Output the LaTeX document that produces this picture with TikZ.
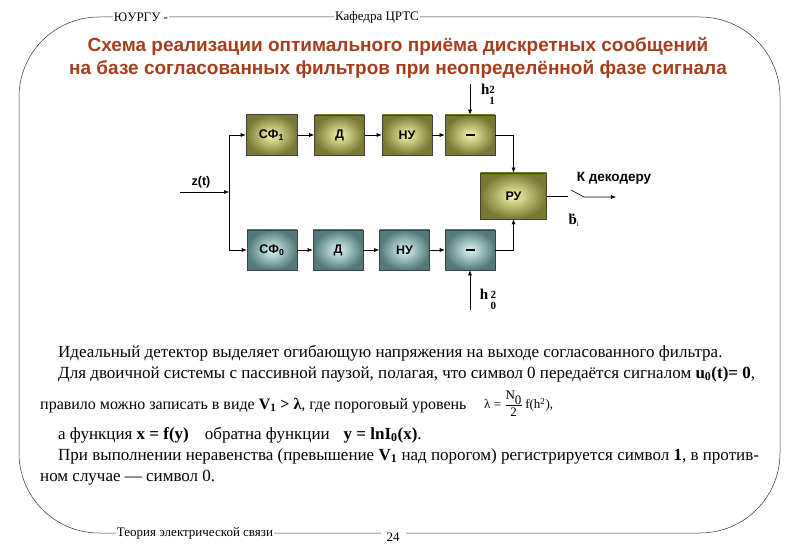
\documentclass[tikz,border=0pt]{standalone}
\usepackage{fontspec}
\setmainfont{Liberation Serif}
\setsansfont{Liberation Sans}
\usetikzlibrary{arrows.meta,calc}
\definecolor{titlebrown}{RGB}{165,62,28}
\definecolor{olout}{RGB}{120,120,52}
\definecolor{olin}{RGB}{248,246,170}
\definecolor{tlout}{RGB}{82,122,122}
\definecolor{tlin}{RGB}{220,248,248}
\newcommand{\minusbar}{\rule{9pt}{1.3pt}}
\newcommand{\stackidx}[2]{\raisebox{-5pt}{\fontsize{11}{11}\selectfont\bfseries\begin{tabular}{@{}c@{}}#1\\[-0.5pt]#2\end{tabular}}}
\tikzset{
  blk/.style={draw=black!75, line width=0.6pt, minimum width=50pt, minimum height=40pt,
    inner sep=0pt, font=\sffamily\bfseries\fontsize{12.5}{13}\selectfont},
  olive/.style={blk, inner color=olin, outer color=olout},
  teal/.style={blk, inner color=tlin, outer color=tlout},
  conn/.style={line width=0.6pt, -{Latex[length=5pt,width=4pt]}},
  wire/.style={line width=0.6pt},
  frame/.style={line width=0.5pt, black!80},
  hdr/.style={fill=white, inner sep=1pt, font=\fontsize{13}{14}\selectfont},
  body/.style={anchor=base west, inner sep=0pt, font=\fontsize{17}{19}\selectfont},
}
\begin{document}
\begin{tikzpicture}[x=1pt,y=-1pt]
\useasboundingbox (0,0) rectangle (800,553);
% frame
\draw[frame, rounded corners=80pt] (19,17) rectangle (780,533);
\node[hdr] (hA) at (141,17) {ЮУРГУ - };
\node[hdr] (hB) at (377,17) {Кафедра ЦРТС};
\node[hdr] (fA) at (195,533) {Теория электрической связи};
\node[hdr, inner xsep=6pt] (fB) at (393,537) {24};
% title
\node[inner sep=0pt, font=\sffamily\bfseries\fontsize{19}{23}\selectfont, text=titlebrown, align=center] (title) at (398,58)
  {Схема реализации оптимального приёма дискретных сообщений\\на базе согласованных фильтров при неопределённой фазе сигнала};
% blocks top
\node[olive, minimum width=51pt, minimum height=41pt] (sf1) at (271.5,135) {СФ\textsubscript{1}};
\node[olive] (d1) at (339.5,135) {Д};
\node[olive] (n1) at (407,135) {НУ};
\node[olive] (m1) at (470,135) {\minusbar};
% blocks bottom
\node[teal] (sf0) at (272,250) {СФ\textsubscript{0}};
\node[teal] (d0) at (338,250) {Д};
\node[teal] (n0) at (404.5,250) {НУ};
\node[teal] (m0) at (470,250) {\minusbar};
% decision
\node[olive, minimum width=66pt, minimum height=46pt] (ru) at (513.5,196) {РУ};
% input
\coordinate (zin) at (180,192);
\coordinate (zj) at (229,192);
\coordinate (zt) at (229,135);
\coordinate (zb) at (229,250);
\node[font=\sffamily\bfseries\fontsize{12.5}{13}\selectfont] (zlab) at (201,182) {z(t)};
\draw[conn] (zin) -- (zj);
\draw[wire] (zt) -- (zb);
\draw[conn] (zt) -- (sf1);
\draw[conn] (zb) -- (sf0);
\draw[conn] (sf1) -- (d1);
\draw[conn] (d1) -- (n1);
\draw[conn] (n1) -- (m1);
\draw[conn] (sf0) -- (d0);
\draw[conn] (d0) -- (n0);
\draw[conn] (n0) -- (m0);
\draw[conn] (m1.east) -| (ru.north);
\draw[conn] (m0.east) -| (ru.south);
% thresholds
\coordinate (h1s) at (470,84);
\coordinate (h0s) at (470,310);
\draw[conn] (h1s) -- (m1.north);
\draw[conn] (h0s) -- (m0.south);
\node[inner sep=0pt, font=\fontsize{15}{16}\selectfont] (h1) at (488,96) {\textbf{h}\stackidx{2}{1}};
\node[inner sep=0pt, font=\fontsize{15}{16}\selectfont] (h0) at (488,301) {\textbf{h}\,\stackidx{2}{0}};
% output switch
\coordinate (swa) at (568,196);
\coordinate (swb) at (571,190);
\coordinate (swc) at (584,197);
\coordinate (out) at (616,197);
\draw[wire] (ru.east) -- (swa);
\draw[conn] (swb) -- (swc) -- (out);
\node[font=\sffamily\bfseries\fontsize{13.5}{14}\selectfont] (dec) at (614,178) {К декодеру};
\node[font=\fontsize{15}{16}\selectfont] (bi) at (574,220) {\textbf{\.b}\textsubscript{\fontsize{7}{7}\selectfont i}};
% body text
\node[body] (l1) at (58,357) {Идеальный детектор выделяет огибающую напряжения на выходе согласованного фильтра.};
\node[body] (l2) at (58,378) {Для двоичной системы с пассивной паузой, полагая, что символ 0 передаётся сигналом \textbf{u\textsubscript{0}(t)= 0},};
\node[body, font=\fontsize{16}{19}\selectfont] (l3) at (40,409) {правило можно записать в виде \textbf{V\textsubscript{1} > λ}, где пороговый уровень};
\node[anchor=west, inner sep=0pt, font=\fontsize{13}{14}\selectfont] (lam) at (484,404)
  {λ = $\displaystyle\frac{\textnormal{N}_{\textnormal{0}}}{\textnormal{2}}$\,f(h\textsuperscript{2}),};
\node[body] (l4) at (58,439) {а функция \textbf{x = f(y)}\hspace{16pt}обратна функции\hspace{14pt}\textbf{y = lnI\textsubscript{0}(x)}.};
\node[body] (l5) at (58,460) {При выполнении неравенства (превышение \textbf{V\textsubscript{1}} над порогом) регистрируется символ \textbf{1}, в против-};
\node[body] (l6) at (40,481) {ном случае — символ 0.};
\end{tikzpicture}
\end{document}
